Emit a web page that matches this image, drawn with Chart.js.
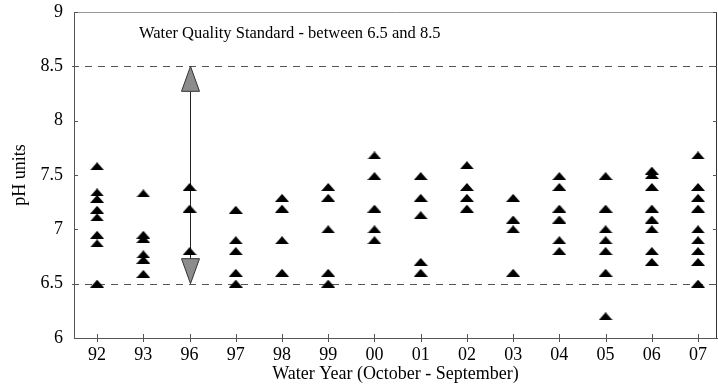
<!DOCTYPE html>
<html>
<head>
<meta charset="utf-8">
<title>pH units by water year</title>
<script src="https://cdn.jsdelivr.net/npm/chart.js@4/dist/chart.umd.min.js"></script>
<style>
  html, body { margin: 0; padding: 0; background: #fff; overflow: hidden; }
  canvas { display: block; }
</style>
</head>
<body>
<canvas id="phChart" width="718" height="385"></canvas>
<script>
// water years (October - September)
const years = ['92', '93', '96', '97', '98', '99', '00', '01', '02', '03', '04', '05', '06', '07'];

// pH samples read for each year, same order as years
const phByYear = [
    [7.58, 7.34, 7.28, 7.18, 7.11, 6.95, 6.87, 6.5],
    [7.33, 6.95, 6.91, 6.77, 6.72, 6.59],
    [7.39, 7.19, 6.8],
    [7.18, 6.9, 6.8, 6.6, 6.5],
    [7.29, 7.19, 6.9, 6.6],
    [7.39, 7.29, 7.0, 6.6, 6.5],
    [7.68, 7.49, 7.19, 7.0, 6.9],
    [7.49, 7.29, 7.13, 6.7, 6.6],
    [7.59, 7.39, 7.29, 7.19],
    [7.29, 7.09, 7.0, 6.6],
    [7.49, 7.39, 7.19, 7.09, 6.9, 6.8],
    [7.49, 7.19, 7.0, 6.9, 6.8, 6.6, 6.2],
    [7.54, 7.5, 7.39, 7.19, 7.09, 7.0, 6.8, 6.7],
    [7.68, 7.39, 7.29, 7.19, 7.0, 6.9, 6.8, 6.7, 6.5]
];

const yTicks = [6, 6.5, 7, 7.5, 8, 8.5, 9];
const standardRange = [6.5, 8.5];
const arrowYear = '96';
const standardText = 'Water Quality Standard - between 6.5 and 8.5';

const serif = "'Liberation Serif', 'Times New Roman', serif";

// flat black triangle used as the marker
function makeTriangle() {
    const c = document.createElement('canvas');
    c.width = 14;
    c.height = 8;
    const g = c.getContext('2d');
    g.fillStyle = '#000';
    g.beginPath();
    g.moveTo(7, 0);
    g.lineTo(14, 8);
    g.lineTo(0, 8);
    g.closePath();
    g.fill();
    return c;
}

const points = [];
phByYear.forEach((vals, i) => {
    vals.forEach(v => points.push({ x: i, y: v }));
});

// dashed standard lines, arrow, note text, frame and tick marks
const extras = {
    id: 'extras',
    beforeDatasetsDraw(chart) {
        const { ctx, chartArea: a, scales: { x, y } } = chart;
        ctx.save();
        ctx.strokeStyle = '#555';
        ctx.lineWidth = 1;
        ctx.setLineDash([7, 6]);
        standardRange.forEach(v => {
            const py = Math.round(y.getPixelForValue(v)) + 0.5;
            ctx.beginPath();
            ctx.moveTo(a.left - 2, py);
            ctx.lineTo(a.right, py);
            ctx.stroke();
        });
        ctx.setLineDash([]);

        // double arrow
        const ax = Math.round(x.getPixelForValue(years.indexOf(arrowYear))) + 0.5;
        const yLo = y.getPixelForValue(standardRange[0]);
        const yHi = y.getPixelForValue(standardRange[1]);
        const hw = 9, hh = 25;
        ctx.strokeStyle = '#222';
        ctx.beginPath();
        ctx.moveTo(ax, yHi + hh);
        ctx.lineTo(ax, yLo - hh);
        ctx.stroke();
        ctx.fillStyle = '#8c8c8c';
        ctx.strokeStyle = '#333';
        ctx.beginPath();
        ctx.moveTo(ax, yHi);
        ctx.lineTo(ax + hw, yHi + hh);
        ctx.lineTo(ax - hw, yHi + hh);
        ctx.closePath();
        ctx.fill();
        ctx.stroke();
        ctx.beginPath();
        ctx.moveTo(ax, yLo);
        ctx.lineTo(ax + hw, yLo - hh);
        ctx.lineTo(ax - hw, yLo - hh);
        ctx.closePath();
        ctx.fill();
        ctx.stroke();

        ctx.fillStyle = '#000';
        ctx.font = '16.5px ' + serif;
        ctx.textBaseline = 'middle';
        ctx.textAlign = 'left';
        ctx.fillText(standardText, 139, 34);
        ctx.restore();
    },
    afterDraw(chart) {
        const { ctx, chartArea: a, scales: { x, y } } = chart;
        ctx.save();
        ctx.lineWidth = 1;
        // top and right frame
        ctx.strokeStyle = '#999';
        ctx.beginPath();
        ctx.moveTo(a.left, a.top + 0.5);
        ctx.lineTo(a.right, a.top + 0.5);
        ctx.stroke();
        ctx.strokeStyle = '#333';
        ctx.beginPath();
        ctx.moveTo(a.right - 0.5, a.top);
        ctx.lineTo(a.right - 0.5, a.bottom);
        ctx.stroke();
        // x tick marks across the axis
        ctx.strokeStyle = '#555';
        years.forEach((_, i) => {
            const px = Math.round(x.getPixelForValue(i)) + 0.5;
            ctx.beginPath();
            ctx.moveTo(px, a.bottom - 4);
            ctx.lineTo(px, a.bottom + 4);
            ctx.stroke();
        });
        // y tick marks inside, both sides
        yTicks.forEach(v => {
            const py = Math.round(y.getPixelForValue(v)) + 0.5;
            ctx.beginPath();
            ctx.moveTo(a.left, py);
            ctx.lineTo(a.left + 4, py);
            ctx.moveTo(a.right - 4, py);
            ctx.lineTo(a.right, py);
            ctx.stroke();
        });
        ctx.restore();
    }
};

new Chart(document.getElementById('phChart'), {
    type: 'scatter',
    data: {
        datasets: [{
            label: 'pH',
            data: points,
            pointStyle: makeTriangle(),
            pointRadius: 7,
            pointHoverRadius: 7,
            backgroundColor: '#000',
            borderColor: '#000'
        }]
    },
    options: {
        responsive: false,
        animation: false,
        layout: { autoPadding: false, padding: { top: 12, right: 1, left: 0, bottom: 0 } },
        plugins: {
            legend: { display: false },
            tooltip: { enabled: false }
        },
        scales: {
            x: {
                type: 'linear',
                min: -0.5,
                max: 13.41,
                afterBuildTicks: s => { s.ticks = years.map((_, i) => ({ value: i })); },
                afterFit: s => { s.height = 47; s.paddingLeft = 0; s.paddingRight = 0; },
                grid: { display: false, drawTicks: false },
                border: { display: true, color: '#555', width: 1 },
                ticks: {
                    color: '#000',
                    font: { family: serif, size: 18 },
                    padding: 6,
                    maxRotation: 0,
                    autoSkip: false,
                    callback: v => years[v]
                },
                title: {
                    display: true,
                    text: 'Water Year (October - September)',
                    color: '#000',
                    font: { family: serif, size: 18 },
                    padding: 0
                }
            },
            y: {
                min: 6,
                max: 9,
                afterBuildTicks: s => { s.ticks = yTicks.map(v => ({ value: v })); },
                afterFit: s => { s.width = 74; s.paddingTop = 0; s.paddingBottom = 0; },
                grid: { display: false, drawTicks: false },
                border: { display: true, color: '#555', width: 1 },
                ticks: {
                    color: '#000',
                    font: { family: serif, size: 18 },
                    padding: 11,
                    callback: v => String(v)
                },
                title: {
                    display: true,
                    text: 'pH units',
                    color: '#000',
                    font: { family: serif, size: 18 },
                    padding: { top: 9, bottom: 0 }
                }
            }
        }
    },
    plugins: [extras]
});
</script>
</body>
</html>
